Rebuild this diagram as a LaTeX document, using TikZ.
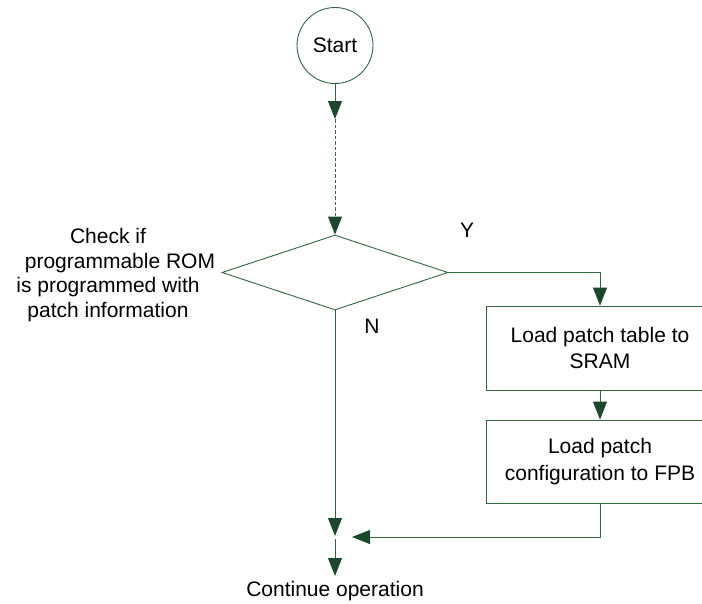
\documentclass[tikz,border=0pt]{standalone}
\usepackage{fontspec}
\setmainfont{Liberation Sans}
\usetikzlibrary{shapes.geometric,arrows.meta}
\definecolor{linec}{RGB}{52,102,66}
\definecolor{headc}{RGB}{27,72,42}
\begin{document}
\begin{tikzpicture}[x=1pt,y=-1pt,
  every node/.style={font=\fontsize{21}{26.5}\selectfont},
  ln/.style={draw=linec,line width=0.9pt},
  arr/.style={ln,-{Triangle[length=18pt,width=14pt,color=headc]}},
  proc/.style={ln,rectangle,minimum width=228pt,inner sep=0pt,align=center},
  lbl/.style={inner sep=0pt,align=center}]
\clip (0,0) rectangle (702,603);
\useasboundingbox (0,0) rectangle (702,603);
\node[ln,circle,minimum size=76pt,inner sep=0pt] (start) at (335,45.5) {Start};
\node[ln,diamond,minimum width=226pt,minimum height=75pt,aspect=3,inner sep=0pt] (dia) at (335,272.5) {};
\node[proc,minimum height=84pt] (b1) at (600,348) {Load patch table to\\SRAM};
\node[proc,minimum height=83pt] (b2) at (600,461.5) {Load patch\\configuration to FPB};
\node[lbl,font=\fontsize{21}{24.7}\selectfont] (chk) at (108,275) {Check if\\\hspace*{24pt}programmable ROM\\is programmed with\\patch information};
\node[lbl] (ylab) at (467,230) {Y};
\node[lbl] (nlab) at (372,326) {N};
\node[lbl] (cont) at (335,591) {Continue operation};
\coordinate (m1) at (335,119);
\coordinate (j1) at (335,536);
\coordinate (j2) at (335,539);
\coordinate (j3) at (335,576);
\coordinate (r1) at (352,537);
\draw[arr] (start.south) -- (m1);
\draw[arr,dashed,dash pattern=on 3.5pt off 2pt] (m1) -- (dia.north);
\draw[arr] (dia.east) -| (b1.north);
\draw[arr] (b1.south) -- (b2.north);
\draw[arr] (dia.south) -- (j1);
\draw[arr] (j2) -- (j3);
\draw[arr] (b2.south) |- (r1);
\end{tikzpicture}
\end{document}
